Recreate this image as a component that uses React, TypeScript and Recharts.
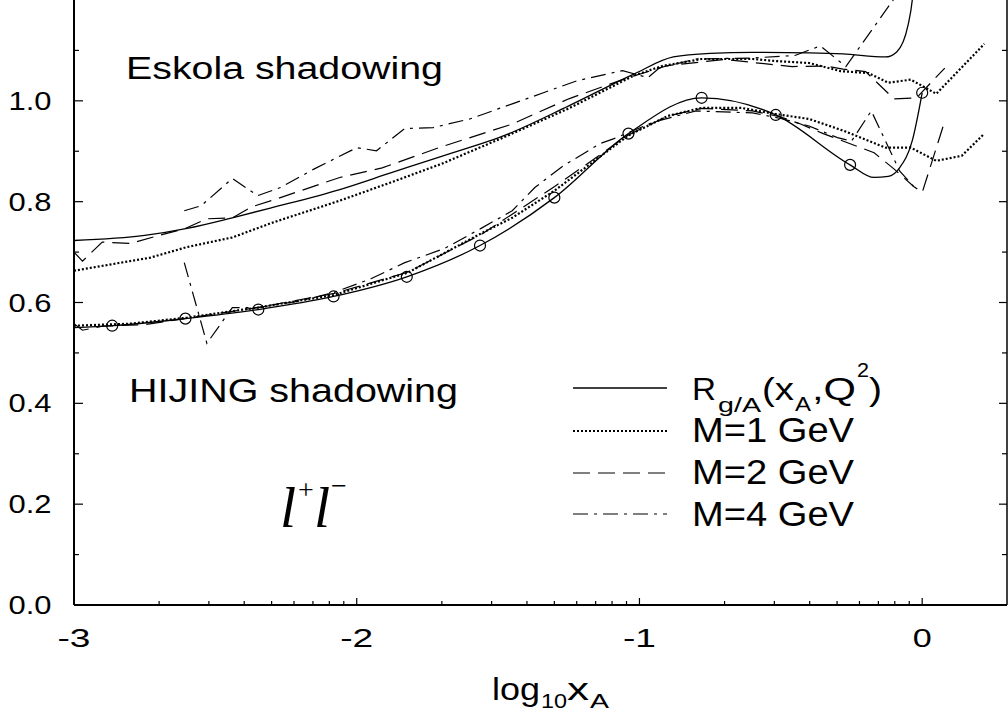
import { ComposedChart, Line, XAxis, YAxis } from "recharts";

type Pt = [number, number];

// Eskola shadowing (upper group)
const eskolaR: Pt[] = [
  [-3.0, 0.723], [-2.75, 0.733], [-2.6, 0.747], [-2.44, 0.768], [-2.3, 0.788],
  [-2.06, 0.824], [-1.88, 0.857], [-1.7, 0.89], [-1.47, 0.933], [-1.25, 0.99],
  [-1.02, 1.053], [-0.88, 1.087], [-0.75, 1.094], [-0.6, 1.096], [-0.4, 1.095],
  [-0.28, 1.093], [-0.13, 1.087], [-0.09, 1.097], [-0.05, 1.15], [-0.035, 1.2], [-0.03, 1.23],
];
const eskolaM1: Pt[] = [
  [-3.0, 0.663], [-2.73, 0.689], [-2.6, 0.71], [-2.44, 0.729], [-2.3, 0.758],
  [-2.06, 0.802], [-1.88, 0.838], [-1.7, 0.875], [-1.47, 0.93], [-1.25, 0.985],
  [-1.02, 1.05], [-0.92, 1.069], [-0.78, 1.083], [-0.6, 1.083], [-0.52, 1.079],
  [-0.4, 1.075], [-0.29, 1.059], [-0.19, 1.055], [-0.12, 1.036], [-0.04, 1.042],
  [0.05, 1.014], [0.22, 1.113],
];
const eskolaM2: Pt[] = [
  [-3.0, 0.7], [-2.97, 0.682], [-2.9, 0.72], [-2.8, 0.717], [-2.7, 0.733],
  [-2.61, 0.746], [-2.53, 0.766], [-2.44, 0.768], [-2.37, 0.79], [-2.27, 0.808],
  [-2.06, 0.848], [-1.91, 0.867], [-1.71, 0.907], [-1.45, 0.954], [-1.25, 1.004],
  [-1.04, 1.046], [-0.9, 1.07], [-0.7, 1.082], [-0.46, 1.068], [-0.34, 1.069],
  [-0.28, 1.063], [-0.2, 1.058], [-0.1, 1.004], [-0.02, 1.006], [0.08, 1.065],
];
const eskolaM4: Pt[] = [
  [-2.61, 0.782], [-2.55, 0.792], [-2.44, 0.846], [-2.35, 0.812], [-2.27, 0.828],
  [-2.15, 0.865], [-2.0, 0.907], [-1.93, 0.901], [-1.83, 0.945], [-1.73, 0.947],
  [-1.6, 0.964], [-1.45, 0.994], [-1.34, 1.016], [-1.22, 1.04], [-1.06, 1.06],
  [-0.97, 1.046], [-0.93, 1.065], [-0.8, 1.083], [-0.6, 1.085], [-0.45, 1.09],
  [-0.36, 1.109], [-0.27, 1.068], [-0.09, 1.21],
];

// HIJING shadowing (lower group)
const hijingR: Pt[] = [
  [-3.0, 0.55], [-2.865, 0.554], [-2.606, 0.568], [-2.348, 0.586], [-2.082, 0.612],
  [-1.823, 0.651], [-1.564, 0.713], [-1.301, 0.808], [-1.039, 0.935], [-0.78, 1.006],
  [-0.518, 0.972], [-0.255, 0.873], [-0.17, 0.848], [-0.12, 0.85], [-0.08, 0.867],
  [-0.035, 0.921], [0.0, 1.016],
];
const hijingMarks: Pt[] = [
  [-2.865, 0.554], [-2.606, 0.568], [-2.348, 0.586], [-2.082, 0.612], [-1.823, 0.651],
  [-1.564, 0.713], [-1.301, 0.808], [-1.039, 0.935], [-0.78, 1.006], [-0.518, 0.972],
  [-0.255, 0.873], [0.0, 1.016],
];
const hijingM1: Pt[] = [
  [-3.0, 0.554], [-2.8, 0.558], [-2.6, 0.57], [-2.35, 0.59], [-2.08, 0.615],
  [-1.82, 0.659], [-1.56, 0.737], [-1.45, 0.768], [-1.3, 0.822], [-1.04, 0.931],
  [-0.9, 0.97], [-0.78, 0.986], [-0.64, 0.986], [-0.52, 0.974], [-0.4, 0.964],
  [-0.28, 0.941], [-0.13, 0.907], [-0.04, 0.907], [0.05, 0.881], [0.14, 0.891], [0.22, 0.935],
];
const hijingM2: Pt[] = [
  [-3.0, 0.558], [-2.97, 0.545], [-2.9, 0.553], [-2.75, 0.556], [-2.6, 0.569],
  [-2.35, 0.59], [-2.08, 0.618], [-1.82, 0.66], [-1.56, 0.735], [-1.3, 0.83],
  [-1.04, 0.932], [-0.9, 0.97], [-0.78, 0.985], [-0.6, 0.98], [-0.5, 0.968],
  [-0.43, 0.954], [-0.35, 0.935], [-0.17, 0.897], [-0.1, 0.865], [-0.03, 0.83],
  [0.0, 0.818], [0.08, 0.96],
];
const hijingM4: Pt[] = [
  [-2.61, 0.679], [-2.53, 0.519], [-2.44, 0.59], [-2.35, 0.59], [-2.2, 0.603],
  [-2.08, 0.62], [-1.95, 0.647], [-1.83, 0.679], [-1.69, 0.707], [-1.56, 0.747],
  [-1.45, 0.782], [-1.37, 0.828], [-1.27, 0.871], [-1.14, 0.915], [-1.09, 0.925],
  [-0.95, 0.958], [-0.8, 0.98], [-0.6, 0.976], [-0.5, 0.965], [-0.4, 0.95],
  [-0.3, 0.927], [-0.25, 0.92], [-0.18, 0.98], [-0.08, 0.861], [-0.03, 0.83],
];

const xMajorTicks = [-3, -2, -1, 0];
const xTickLabels = ["-3", "-2", "-1", "0"];
const decadeSteps = [2, 3, 4, 5, 6, 7, 8, 9];
const yMajorTicks = [0, 0.2, 0.4, 0.6, 0.8, 1.0];
const yTickLabels = ["0.0", "0.2", "0.4", "0.6", "0.8", "1.0"];
const yMinorTicks = [0.1, 0.3, 0.5, 0.7, 0.9, 1.1];

const X_DOMAIN: [number, number] = [-3, 0.3];
const Y_DOMAIN: [number, number] = [0, 1.2];

const xTicks = [
  ...xMajorTicks,
  ...xMajorTicks.flatMap((d) => decadeSteps.map((k) => d + Math.log10(k))),
]
  .filter((v) => v <= X_DOMAIN[1])
  .sort((a, b) => a - b);
const yTicks = [...yMajorTicks, ...yMinorTicks].sort((a, b) => a - b);

const toPts = (a: Pt[]) => a.map(([x, y]) => ({ x, y }));
const findIdx = (arr: number[], v: number) => arr.findIndex((t) => Math.abs(t - v) < 1e-6);

const SANS = "'Liberation Sans', Arial, sans-serif";
const SERIF = "'Liberation Serif', 'Times New Roman', serif";

function BottomTick(props: any) {
  const { x, y, payload } = props;
  const i = findIdx(xMajorTicks, payload.value);
  const label = i >= 0 ? xTickLabels[i] : "";
  const w = label.length > 1 ? 33 : 19;
  return (
    <g>
      <line x1={x} x2={x} y1={y} y2={y - (i >= 0 ? 7 : 4)} stroke="#000" strokeWidth={1.2} />
      {i >= 0 && (
        <text x={x - w / 2} y={y + 42} fontSize={26} fontFamily={SANS} fill="#000"
          textLength={w} lengthAdjust="spacingAndGlyphs">
          {label}
        </text>
      )}
    </g>
  );
}

function TopTick(props: any) {
  const { x, y, payload } = props;
  const major = findIdx(xMajorTicks, payload.value) >= 0;
  return <line x1={x} x2={x} y1={y} y2={y + (major ? 7 : 4)} stroke="#000" strokeWidth={1.2} />;
}

function LeftTick(props: any) {
  const { x, y, payload } = props;
  const i = findIdx(yMajorTicks, payload.value);
  return (
    <g>
      <line x1={x} x2={x + (i >= 0 ? 9 : 5)} y1={y} y2={y} stroke="#000" strokeWidth={1.2} />
      {i >= 0 && (
        <text x={x - 65.5} y={y + 9} fontSize={25} fontFamily={SANS} fill="#000"
          textLength={43} lengthAdjust="spacingAndGlyphs">
          {yTickLabels[i]}
        </text>
      )}
    </g>
  );
}

function RightTick(props: any) {
  const { x, y, payload } = props;
  const major = findIdx(yMajorTicks, payload.value) >= 0;
  return <line x1={x} x2={x - (major ? 8 : 5)} y1={y} y2={y} stroke="#000" strokeWidth={1.2} />;
}

const SOLID = { stroke: "#000", strokeWidth: 1.3 };
const DOTTED = { stroke: "#000", strokeWidth: 2.2, strokeDasharray: "2 2" };
const DASHED = { stroke: "#000", strokeWidth: 1.2, strokeDasharray: "17 8" };
const DASHDOT = { stroke: "#000", strokeWidth: 1.2, strokeDasharray: "15 6 3 6" };

const series = [
  { name: "eskolaR", data: eskolaR, style: SOLID, curve: "monotone" },
  { name: "eskolaM1", data: eskolaM1, style: DOTTED, curve: "linear" },
  { name: "eskolaM2", data: eskolaM2, style: DASHED, curve: "linear" },
  { name: "eskolaM4", data: eskolaM4, style: DASHDOT, curve: "linear" },
  { name: "hijingR", data: hijingR, style: SOLID, curve: "monotone" },
  { name: "hijingM1", data: hijingM1, style: DOTTED, curve: "linear" },
  { name: "hijingM2", data: hijingM2, style: DASHED, curve: "linear" },
  { name: "hijingM4", data: hijingM4, style: DASHDOT, curve: "linear" },
];

const legendRows = [
  { y: 388, style: SOLID },
  { y: 431, style: DOTTED },
  { y: 473, style: DASHED },
  { y: 514, style: DASHDOT },
];

export default function App() {
  return (
    <div style={{ position: "absolute", left: 0, top: 0, width: 1008, height: 717, background: "#fff" }}>
      <ComposedChart width={1008} height={717} margin={{ top: 0, right: 0, bottom: 0, left: 0 }}>
        <XAxis
          xAxisId="bottom"
          dataKey="x"
          type="number"
          domain={X_DOMAIN}
          allowDataOverflow
          ticks={xTicks}
          interval={0}
          height={112}
          tickSize={0}
          tickMargin={0}
          tickLine={false}
          tick={<BottomTick />}
          axisLine={{ stroke: "#000", strokeWidth: 2 }}
        />
        <XAxis
          xAxisId="top"
          orientation="top"
          dataKey="x"
          type="number"
          domain={X_DOMAIN}
          allowDataOverflow
          ticks={xTicks}
          interval={0}
          height={0}
          tickSize={0}
          tickMargin={0}
          tickLine={false}
          tick={<TopTick />}
          axisLine={false}
        />
        <YAxis
          yAxisId="left"
          type="number"
          domain={Y_DOMAIN}
          allowDataOverflow
          ticks={yTicks}
          interval={0}
          width={74}
          tickSize={0}
          tickMargin={0}
          tickLine={false}
          tick={<LeftTick />}
          axisLine={{ stroke: "#000", strokeWidth: 2 }}
        />
        <YAxis
          yAxisId="right"
          orientation="right"
          type="number"
          domain={Y_DOMAIN}
          allowDataOverflow
          ticks={yTicks}
          interval={0}
          width={1}
          tickSize={0}
          tickMargin={0}
          tickLine={false}
          tick={<RightTick />}
          axisLine={{ stroke: "#000", strokeWidth: 1.5 }}
        />
        {series.map((s) => (
          <Line
            key={s.name}
            xAxisId="bottom"
            yAxisId="left"
            data={toPts(s.data)}
            dataKey="y"
            type={s.curve as any}
            {...s.style}
            fill="none"
            dot={false}
            activeDot={false}
            isAnimationActive={false}
          />
        ))}
        <Line
          xAxisId="bottom"
          yAxisId="left"
          data={toPts(hijingMarks)}
          dataKey="y"
          stroke="none"
          strokeWidth={0}
          dot={{ r: 5.5, fill: "none", stroke: "#000", strokeWidth: 1.2 }}
          activeDot={false}
          isAnimationActive={false}
        />
      </ComposedChart>

      <svg width={1008} height={717} style={{ position: "absolute", left: 0, top: 0, pointerEvents: "none" }}>
        <g fontFamily={SANS} fill="#000">
          <text x={126} y={79} fontSize={31} textLength={317} lengthAdjust="spacingAndGlyphs">Eskola shadowing</text>
          <text x={129} y={402} fontSize={34} textLength={329} lengthAdjust="spacingAndGlyphs">HIJING shadowing</text>

          {legendRows.map((r, i) => (
            <line key={i} x1={573} x2={667} y1={r.y} y2={r.y} {...r.style} />
          ))}
          <text x={692} y={400} fontSize={32} textLength={24} lengthAdjust="spacingAndGlyphs">R</text>
          <text x={718} y={412} fontSize={20} textLength={43} lengthAdjust="spacingAndGlyphs">g/A</text>
          <text x={762} y={400} fontSize={32} textLength={32} lengthAdjust="spacingAndGlyphs">(x</text>
          <text x={795} y={411} fontSize={20} textLength={16} lengthAdjust="spacingAndGlyphs">A</text>
          <text x={812} y={400} fontSize={32} textLength={44} lengthAdjust="spacingAndGlyphs">,Q</text>
          <text x={857} y={377} fontSize={20} textLength={12} lengthAdjust="spacingAndGlyphs">2</text>
          <text x={869} y={400} fontSize={32} textLength={13} lengthAdjust="spacingAndGlyphs">)</text>
          <text x={692} y={442} fontSize={35} textLength={162} lengthAdjust="spacingAndGlyphs">M=1 GeV</text>
          <text x={692} y={484} fontSize={35} textLength={162} lengthAdjust="spacingAndGlyphs">M=2 GeV</text>
          <text x={692} y={526} fontSize={35} textLength={162} lengthAdjust="spacingAndGlyphs">M=4 GeV</text>

          <text x={492} y={700} fontSize={31} textLength={48} lengthAdjust="spacingAndGlyphs">log</text>
          <text x={541} y={708} fontSize={21} textLength={26} lengthAdjust="spacingAndGlyphs">10</text>
          <text x={567} y={700} fontSize={31} textLength={22} lengthAdjust="spacingAndGlyphs">x</text>
          <text x={590} y={708} fontSize={21} textLength={19} lengthAdjust="spacingAndGlyphs">A</text>
        </g>
        <g fontFamily={SERIF} fill="#000">
          <text x={280} y={527} fontSize={58} fontStyle="italic">l</text>
          <text x={298} y={499} fontSize={28}>+</text>
          <text x={314} y={527} fontSize={58} fontStyle="italic">l</text>
          <text x={331} y={495} fontSize={28}>−</text>
        </g>
      </svg>
    </div>
  );
}
